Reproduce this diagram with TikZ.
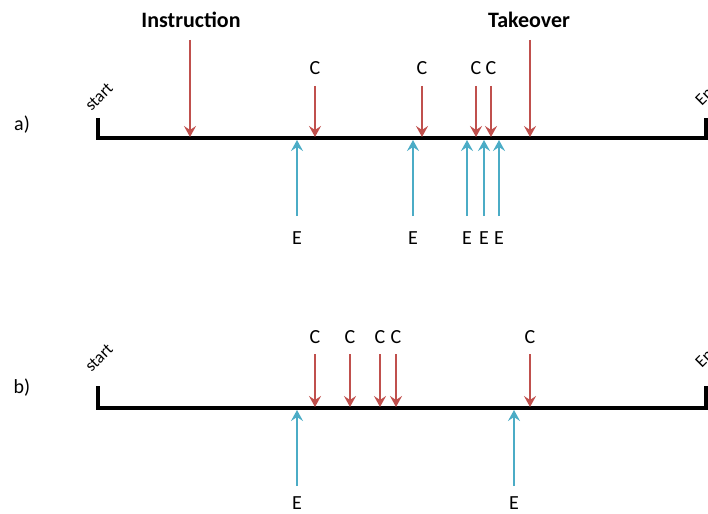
\documentclass[tikz,border=0pt]{standalone}
\usepackage{fontspec}
\setmainfont{Carlito}
\usetikzlibrary{arrows.meta}
\definecolor{cred}{RGB}{192,80,77}
\definecolor{cblue}{RGB}{75,172,198}
\begin{document}
\begin{tikzpicture}[x=1pt,y=-1pt,
  axis/.style={line width=3.5pt,black},
  redarr/.style={line width=2.6pt,cred,-{Stealth[length=11pt,width=12pt,inset=4pt]}},
  bluearr/.style={line width=2.6pt,cblue,-{Stealth[length=11pt,width=12pt,inset=4pt]}},
  lbl/.style={font=\fontsize{20}{22}\selectfont,inner sep=0pt},
  blbl/.style={font=\fontsize{22}{24}\selectfont\bfseries,inner sep=0pt},
  rot/.style={font=\fontsize{17}{18}\selectfont,rotate=45,inner sep=0pt}]
\useasboundingbox (0,0) rectangle (708,513);
% ---------- a) ----------
\node[lbl] (la) at (22,125) {a)};
\coordinate (aL) at (98,138);
\coordinate (aLt) at (98,118);
\coordinate (aR) at (706,138);
\coordinate (aRt) at (706,118);
\draw[axis] (aLt) -- (aL) -- (aR) -- (aRt);
\node[rot] (sa) at (99,97) {start};
\node[rot] (ea) at (707,93) {End};
\node[blbl] (ins) at (191,20) {Instruction};
\node[blbl] (tak) at (529,20) {Takeover};
\foreach \n/\x in {i/190,t/530}{
  \coordinate (a\n s) at (\x,40);
  \coordinate (a\n e) at (\x,137);
  \draw[redarr] (a\n s) -- (a\n e);
}
\foreach \n/\x in {1/315,2/422,3/476,4/491}{
  \node[lbl] (ac\n) at (\x,68) {C};
  \coordinate (acs\n) at (\x,86);
  \coordinate (ace\n) at (\x,137);
  \draw[redarr] (acs\n) -- (ace\n);
}
\foreach \n/\x in {1/297,2/413,3/467,4/484,5/499}{
  \node[lbl] (ae\n) at (\x,238) {E};
  \coordinate (aes\n) at (\x,216);
  \coordinate (aee\n) at (\x,140);
  \draw[bluearr] (aes\n) -- (aee\n);
}
% ---------- b) ----------
\node[lbl] (lb) at (22,388) {b)};
\coordinate (bL) at (98,408);
\coordinate (bLt) at (98,386);
\coordinate (bR) at (706,408);
\coordinate (bRt) at (706,386);
\draw[axis] (bLt) -- (bL) -- (bR) -- (bRt);
\node[rot] (sb) at (99,358) {start};
\node[rot] (eb) at (707,355) {End};
\foreach \n/\x in {1/315,2/350,3/380,4/396,5/530}{
  \node[lbl] (bc\n) at (\x,337) {C};
  \coordinate (bcs\n) at (\x,354);
  \coordinate (bce\n) at (\x,407);
  \draw[redarr] (bcs\n) -- (bce\n);
}
\foreach \n/\x in {1/297,2/514}{
  \node[lbl] (be\n) at (\x,503) {E};
  \coordinate (bes\n) at (\x,486);
  \coordinate (bee\n) at (\x,410);
  \draw[bluearr] (bes\n) -- (bee\n);
}
\end{tikzpicture}
\end{document}
